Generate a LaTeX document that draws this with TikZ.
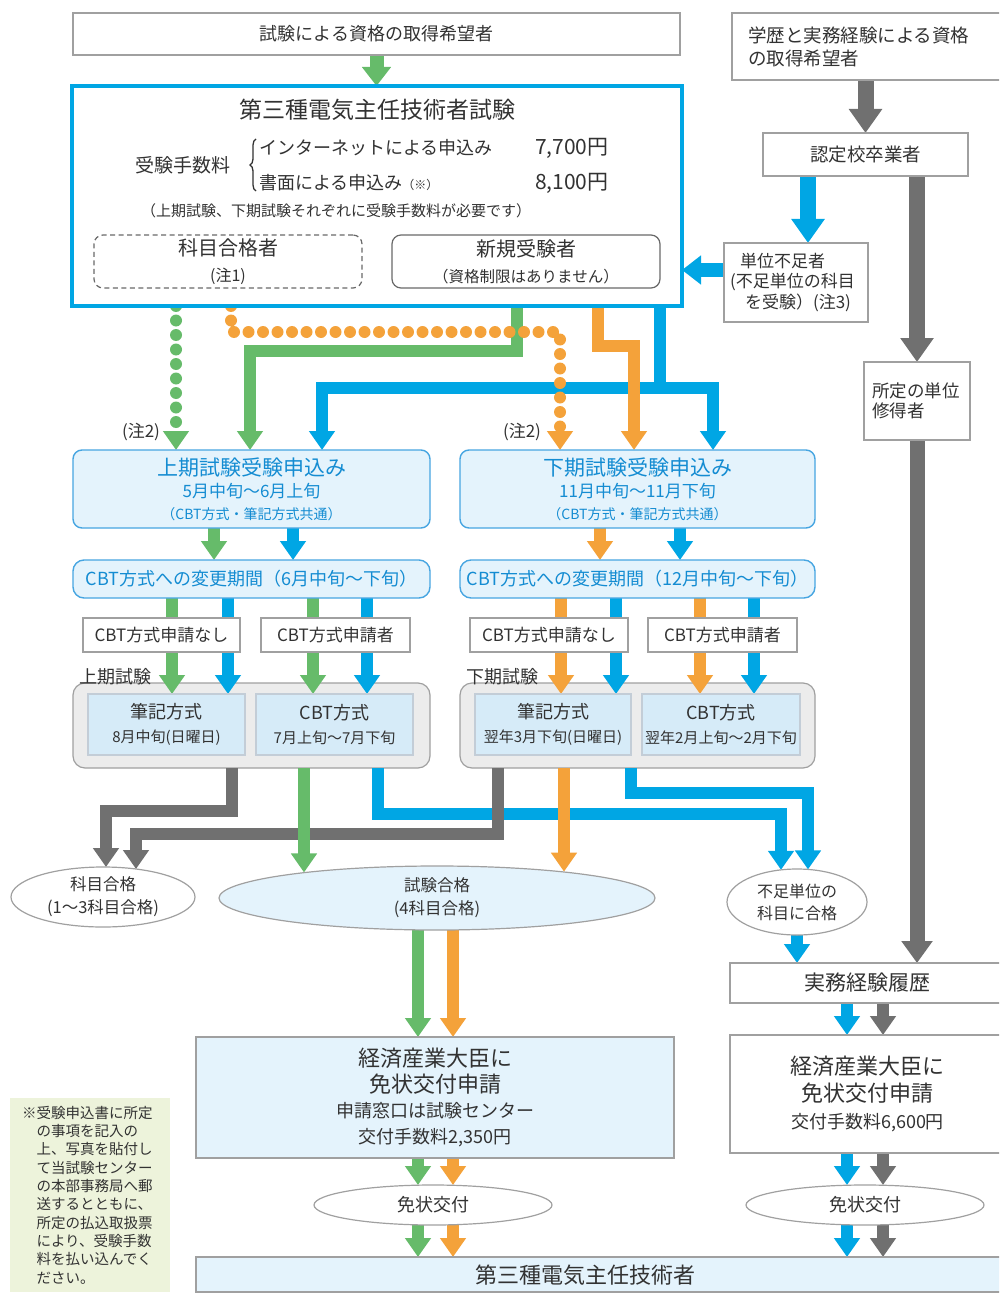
\documentclass[tikz,border=0pt]{standalone}
\usepackage{fontspec}
\setmainfont{Noto Sans CJK JP}
\usetikzlibrary{arrows.meta,shapes.geometric,decorations.pathreplacing}
\definecolor{cG}{RGB}{102,187,106}
\definecolor{cO}{RGB}{244,162,58}
\definecolor{cB}{RGB}{0,166,228}
\definecolor{cK}{RGB}{112,112,112}
\definecolor{txt}{RGB}{50,50,50}
\definecolor{bgray}{RGB}{160,160,160}
\definecolor{dgray}{RGB}{105,105,105}
\definecolor{lblue}{RGB}{228,243,252}
\definecolor{iblue}{RGB}{214,235,248}
\definecolor{ggray}{RGB}{236,236,236}
\definecolor{notefill}{RGB}{237,243,219}
\definecolor{btxt}{RGB}{20,140,210}
\definecolor{bborder}{RGB}{70,165,225}
\definecolor{iborder}{RGB}{195,205,215}
\pgfdeclarelayer{back}
\pgfdeclarelayer{arr}
\pgfsetlayers{back,arr,main}
\newcommand\fs[2]{\fontsize{#1}{#2}\selectfont}
\begin{document}
\begin{tikzpicture}[x=1pt,y=-1pt,
  every node/.style={text=txt, inner sep=0pt, outer sep=0pt},
  box/.style={draw=bgray, line width=1.2pt, fill=white, align=center},
  bbox/.style={draw=bborder, line width=1.4pt, fill=lblue, rounded corners=9pt, align=center, text=btxt},
  ibox/.style={draw=iborder, line width=1.2pt, fill=iblue, align=center},
  ell/.style={ellipse, draw=bgray, line width=1.2pt, fill=white, align=center},
  wh/.style 2 args={minimum width=#1pt, minimum height=#2pt},
  arrS/.style={line width=12pt, -{Triangle[width=25pt,length=19pt]}},
  arrM/.style={line width=14pt, -{Triangle[width=28pt,length=19pt]}},
  arrL/.style={line width=16pt, -{Triangle[width=32pt,length=24pt]}},
  dotS/.style={line width=12pt, line cap=round, dash pattern=on 0pt off 14.5pt, -{Triangle[width=25pt,length=19pt]}},
]
\useasboundingbox (0,0) rectangle (999,1297);
\clip (0,0) rectangle (999,1297);

% ---------- top left ----------
\node[box, wh={607}{42}, font=\fs{18}{22}] (top1) at (376.5,34) {試験による資格の取得希望者};
\node[draw=cB, line width=4pt, fill=white, wh={610}{220}] (big) at (377,196) {};
\node[font=\fs{23}{28}] (title) at (377,110) {第三種電気主任技術者試験};
\node[font=\fs{19}{24}] (feelbl) at (183,165) {受験手数料};
\draw[decorate, decoration={brace, amplitude=6pt}, line width=1.3pt, draw=txt] (256,191) -- (256,139);
\node[font=\fs{18}{22}, anchor=west] (r1) at (259,148) {インターネットによる申込み};
\node[font=\fs{21}{24}, anchor=west] (p1) at (535,148) {7,700円};
\node[font=\fs{18}{22}, anchor=west] (r2) at (259,183) {書面による申込み{\fs{12}{14}（※）}};
\node[font=\fs{21}{24}, anchor=west] (p2) at (535,183) {8,100円};
\node[font=\fs{15}{18}] (fnote) at (336,211) {（上期試験、下期試験それぞれに受験手数料が必要です）};
\node[box, draw=dgray, dashed, dash pattern=on 5pt off 3.5pt, rounded corners=9pt, wh={268}{53}, font=\fs{16}{26}] (kamoku) at (228,261.5) {{\fs{20}{24}科目合格者}\\(注1)};
\node[box, draw=dgray, rounded corners=9pt, wh={268}{53}, font=\fs{15.5}{26}] (shinki) at (526,261.5) {{\fs{20}{24}新規受験者}\\（資格制限はありません）};

% ---------- right column ----------
\node[box, wh={278}{67}, text width=246pt, align=left, font=\fs{18.5}{23}] (top2) at (871,46.5) {学歴と実務経験による資格\\の取得希望者};
\node[box, wh={205}{43}, font=\fs{18.5}{22}] (nintei) at (865.5,154.5) {認定校卒業者};
\node[box, wh={144}{79}, text width=132pt, align=left, font=\fs{17}{20.5}] (tanbu) at (796,282.5) {\hspace*{10pt}単位不足者\\(不足単位の科目\\\hspace*{15pt}を受験）(注3)};
\node[box, wh={106}{78}, text width=90pt, align=left, font=\fs{17.5}{20.5}] (shotei) at (917,401) {所定の単位\\修得者};

% ---------- application boxes ----------
\node[bbox, wh={357}{78}, font=\fs{17}{22}] (kami) at (251.5,489) {{\fs{21}{24}上期試験受験申込み}\\5月中旬〜6月上旬\\{\fs{14}{18}（CBT方式・筆記方式共通）}};
\node[bbox, wh={355}{78}, font=\fs{17}{22}] (shimo) at (637.5,489) {{\fs{21}{24}下期試験受験申込み}\\11月中旬〜11月下旬\\{\fs{14}{18}（CBT方式・筆記方式共通）}};
\node[font=\fs{17}{20}] (n2a) at (141,432) {(注2)};
\node[font=\fs{17}{20}] (n2b) at (522,432) {(注2)};

\node[bbox, rounded corners=11pt, wh={357}{38}, font=\fs{18}{22}] (hen1) at (251.5,579) {CBT方式への変更期間（6月中旬〜下旬）};
\node[bbox, rounded corners=11pt, wh={355}{38}, font=\fs{18}{22}] (hen2) at (637.5,579) {CBT方式への変更期間（12月中旬〜下旬）};

\node[box, wh={157}{34}, font=\fs{17}{20}] (nashi1) at (161.5,635) {CBT方式申請なし};
\node[box, wh={149}{34}, font=\fs{17}{20}] (sha1) at (335.5,635) {CBT方式申請者};
\node[box, wh={158}{34}, font=\fs{17}{20}] (nashi2) at (549,635) {CBT方式申請なし};
\node[box, wh={149}{34}, font=\fs{17}{20}] (sha2) at (722.5,635) {CBT方式申請者};

% ---------- exam groups ----------
\begin{pgfonlayer}{back}
\node[draw=bgray, line width=1.2pt, fill=ggray, rounded corners=12pt, wh={357}{85}] (outer1) at (251.5,725.5) {};
\node[draw=bgray, line width=1.2pt, fill=ggray, rounded corners=12pt, wh={355}{85}] (outer2) at (637.5,725.5) {};
\end{pgfonlayer}
\node[font=\fs{18}{20}, anchor=west] (lab1) at (79,677) {上期試験};
\node[font=\fs{18}{20}, anchor=west] (lab2) at (466,677) {下期試験};
\node[ibox, wh={157}{61}, font=\fs{15}{24}] (hikki1) at (166.5,724.5) {{\fs{18}{22}筆記方式}\\8月中旬(日曜日)};
\node[ibox, wh={157}{61}, font=\fs{15}{24}] (cbt1) at (334.5,724.5) {{\fs{18}{22}CBT方式}\\7月上旬〜7月下旬};
\node[ibox, wh={156}{61}, font=\fs{15}{24}] (hikki2) at (553,724.5) {{\fs{18}{22}筆記方式}\\翌年3月下旬(日曜日)};
\node[ibox, wh={158}{61}, font=\fs{15}{24}] (cbt2) at (721,724.5) {{\fs{18}{22}CBT方式}\\翌年2月上旬〜2月下旬};

% ---------- results ----------
\node[ell, wh={184}{60}, font=\fs{16.5}{23}] (kgo) at (103,897) {科目合格\\(1〜3科目合格)};
\node[ell, fill=lblue, wh={436}{64}, font=\fs{16.5}{23}] (shg) at (437,898) {試験合格\\(4科目合格)};
\node[ell, wh={140}{66}, font=\fs{16}{22}] (fsk) at (797,902) {不足単位の\\科目に合格};

\node[box, wh={275}{40}, font=\fs{21}{24}] (jit) at (867.5,983) {実務経験履歴};
\node[box, wh={275}{118}, font=\fs{18}{27}] (menR) at (867.5,1094) {{\fs{22}{26}経済産業大臣に}\\{\fs{22}{26}免状交付申請}\\交付手数料6,600円};
\node[box, fill=lblue, wh={478}{121}, font=\fs{18}{25.5}] (menL) at (435,1097.5) {{\fs{22}{26}経済産業大臣に}\\{\fs{22}{26}免状交付申請}\\申請窓口は試験センター\\交付手数料2,350円};
\node[ell, wh={238}{40}, font=\fs{18}{22}] (kfL) at (433,1205) {免状交付};
\node[ell, wh={238}{40}, font=\fs{18}{22}] (kfR) at (865,1205) {免状交付};
\node[box, fill=lblue, wh={809}{35}] (fin) at (600.5,1274.5) {};
\node[font=\fs{22}{26}] (finT) at (585,1275) {第三種電気主任技術者};

\node[fill=notefill, wh={160}{194}, text width=136pt, align=left, font=\fs{14.5}{18.3}] (note) at (90,1195)
 {※受験申込書に所定\\\hspace*{1em}の事項を記入の\\\hspace*{1em}上、写真を貼付し\\\hspace*{1em}て当試験センター\\\hspace*{1em}の本部事務局へ郵\\\hspace*{1em}送するとともに、\\\hspace*{1em}所定の払込取扱票\\\hspace*{1em}により、受験手数\\\hspace*{1em}料を払い込んでく\\\hspace*{1em}ださい。};

% ---------- connectors ----------
\begin{pgfonlayer}{arr}
\draw[arrM, cG] (top1.south) -- (top1.south |- big.north);
% right column
\draw[arrL, cK] (top2.south -| nintei.north) -- (nintei.north);
\draw[arrL, cB] (nintei.south -| 808,0) -- (tanbu.north -| 808,0);
\draw[arrM, cB] ([yshift=12.5pt]tanbu.west) -- ([yshift=12.5pt]tanbu.west -| big.east);
\draw[arrL, cK] (nintei.south -| shotei.north) -- (shotei.north);
\draw[line width=15pt, -{Triangle[width=30pt,length=22pt]}, cK] (shotei.south) -- (shotei.south |- jit.north);
% from main exam box
\draw[arrS, cB] (big.south -| 660,0) -- ++(0,82) -| (kami.north -| 322,0);
\draw[arrS, cB] (big.south -| 660,0) -- ++(0,82) -| (shimo.north -| 713,0);
\draw[arrS, cG] (big.south -| 517,0) -- ++(0,45) -| (kami.north -| 250,0);
\draw[arrS, cO] (big.south -| 598,0) -- ++(0,40) -| (shimo.north -| 634,0);
\draw[dotS, cG] (big.south -| 176,0) -- (kami.north -| 176,0);
\draw[dotS, cO] (big.south -| 231,0) -- ++(0,26) -| (shimo.north -| 560,0);
% application -> change period
\draw[arrS, cG] (kami.south -| 214,0) -- (hen1.north -| 214,0);
\draw[arrS, cB] (kami.south -| 293,0) -- (hen1.north -| 293,0);
\draw[arrS, cO] (shimo.south -| 600,0) -- (hen2.north -| 600,0);
\draw[arrS, cB] (shimo.south -| 680,0) -- (hen2.north -| 680,0);
% change period -> exam
\draw[arrS, cG] (hen1.south -| 172,0) -- (hikki1.north -| 172,0);
\draw[arrS, cB] (hen1.south -| 228,0) -- (hikki1.north -| 228,0);
\draw[arrS, cG] (hen1.south -| 313,0) -- (cbt1.north -| 313,0);
\draw[arrS, cB] (hen1.south -| 367,0) -- (cbt1.north -| 367,0);
\draw[arrS, cO] (hen2.south -| 561,0) -- (hikki2.north -| 561,0);
\draw[arrS, cB] (hen2.south -| 616,0) -- (hikki2.north -| 616,0);
\draw[arrS, cO] (hen2.south -| 700,0) -- (cbt2.north -| 700,0);
\draw[arrS, cB] (hen2.south -| 754,0) -- (cbt2.north -| 754,0);
% exam -> results
\draw[arrS, cB] (outer1.south -| 378,0) -- ++(0,46) -| (fsk.116 -| 781,0);
\draw[arrS, cB] (outer2.south -| 631,0) -- ++(0,25) -| (fsk.71 -| 808,0);
\draw[arrS, cK] (outer1.south -| 232,0) -- ++(0,43) -| (kgo.84 -| 106,0);
\draw[arrS, cK] (outer2.south -| 498,0) -- ++(0,66) -| (kgo.40 -| 136,0);
\draw[arrS, cG] (outer1.south -| 304,0) -- (shg.169 -| 304,0);
\draw[arrS, cO] (outer2.south -| 564,0) -- (shg.12 -| 564,0);
% lower left
\draw[arrS, cG] (shg.south -| 418,0) -- (menL.north -| 418,0);
\draw[arrS, cO] (shg.south -| 453,0) -- (menL.north -| 453,0);
\draw[arrS, cG] (menL.south -| 418,0) -- (kfL.north -| 418,0);
\draw[arrS, cO] (menL.south -| 453,0) -- (kfL.north -| 453,0);
\draw[arrS, cG] (kfL.south -| 418,0) -- (fin.north -| 418,0);
\draw[arrS, cO] (kfL.south -| 453,0) -- (fin.north -| 453,0);
% lower right
\draw[arrS, cB] (fsk.south) -- (fsk.south |- jit.north);
\draw[arrS, cB] (jit.south -| 847,0) -- (menR.north -| 847,0);
\draw[arrS, cK] (jit.south -| 883,0) -- (menR.north -| 883,0);
\draw[arrS, cB] (menR.south -| 847,0) -- (kfR.north -| 847,0);
\draw[arrS, cK] (menR.south -| 883,0) -- (kfR.north -| 883,0);
\draw[arrS, cB] (kfR.south -| 847,0) -- (fin.north -| 847,0);
\draw[arrS, cK] (kfR.south -| 883,0) -- (fin.north -| 883,0);
\end{pgfonlayer}
\end{tikzpicture}
\end{document}
